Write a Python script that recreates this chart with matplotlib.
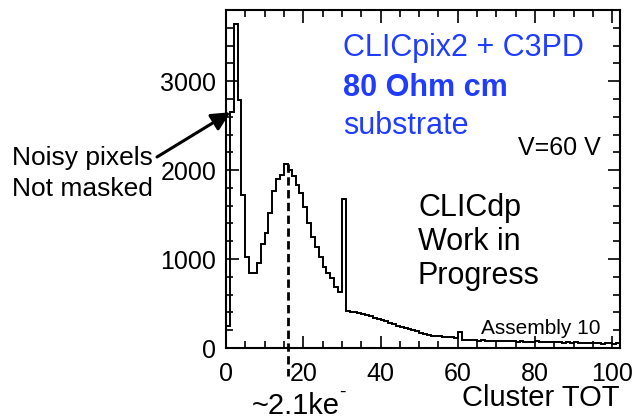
import matplotlib
matplotlib.use("Agg")
import matplotlib.pyplot as plt
from matplotlib.ticker import MultipleLocator
import numpy as np

plt.rcParams["font.family"] = ["Liberation Sans", "DejaVu Sans"]

# Cluster TOT histogram, unit-wide bins starting at 0
bin_edges_start = 0
counts = [
    250, 2650, 3640, 2790, 1720, 1026, 840, 840, 958, 1165,
    1289, 1520, 1767, 1895, 1944, 2067, 2000, 1933, 1831, 1738,
    1588, 1401, 1244, 1138, 1026, 913, 839, 790, 689, 633,
    1671, 420, 410, 400, 392, 380, 368, 355, 340, 328,
    312, 300, 285, 268, 252, 240, 226, 212, 198, 186,
    172, 160, 150, 140, 134, 130, 126, 122, 120, 118,
    183, 85, 88, 90, 86, 84, 88, 82, 80, 84,
    78, 80, 76, 82, 74, 72, 78, 70, 72, 68,
    74, 66, 70, 64, 68, 62, 66, 60, 64, 58,
    62, 56, 60, 54, 58, 52, 56, 50, 54, 60, 48, 52,
]
peak_tot = 16
peak_count = 2067
noisy_tip = (1.1, 2650)

x_ticks = [0, 20, 40, 60, 80, 100]
y_ticks = [0, 1000, 2000, 3000]

W, H = 632, 420
fig = plt.figure(figsize=(W / 100, H / 100), dpi=100)
ax = fig.add_axes([226 / W, (H - 348) / H, (620 - 226) / W, (348 - 10) / H])

edges = np.arange(bin_edges_start, bin_edges_start + len(counts) + 1)
ax.stairs(counts, edges, color="black", lw=1.4, baseline=None)

ax.set_xlim(0, 102)
ax.set_ylim(0, 3800)
ax.set_xticks(x_ticks)
ax.set_yticks(y_ticks)
ax.xaxis.set_minor_locator(MultipleLocator(5))
ax.yaxis.set_minor_locator(MultipleLocator(200))
ax.tick_params(which="both", direction="in", top=True, right=True,
               width=1.2, labelsize=18, colors="black")
ax.tick_params(which="major", length=9)
ax.tick_params(which="minor", length=5)
ax.tick_params(axis="x", pad=10)
ax.tick_params(axis="y", pad=7)
for s in ax.spines.values():
    s.set_linewidth(1.5)

# dashed marker at the peak, running below the axis
ax.plot([peak_tot, peak_tot], [peak_count, -320], color="black", lw=2,
        ls=(0, (3, 1.6)), clip_on=False)

# arrow to the noisy-pixel bins
ax.annotate("", xy=noisy_tip, xycoords="data",
            xytext=(157, H - 157), textcoords="figure pixels",
            arrowprops=dict(arrowstyle="-|>", color="black", lw=2.2,
                            mutation_scale=28, shrinkA=0, shrinkB=0))


def ftext(x, y, s, **kw):
    fig.text(x / W, 1 - y / H, s, **kw)


blue = "#1f3cff"
ftext(343, 48, "CLICpix2 + C3PD", color=blue, fontsize=22, va="center")
ftext(343, 88, "80 Ohm cm", color=blue, fontsize=22, fontweight="bold", va="center")
ftext(343, 126, "substrate", color=blue, fontsize=22, va="center")
ftext(518, 148, "V=60 V", fontsize=18, va="center")
ftext(418, 208, "CLICdp", fontsize=22, va="center")
ftext(418, 242, "Work in", fontsize=22, va="center")
ftext(418, 276, "Progress", fontsize=22, va="center")
ftext(481, 328, "Assembly 10", fontsize=15, va="center")
ftext(12, 158, "Noisy pixels", fontsize=19, va="center")
ftext(12, 189, "Not masked", fontsize=19, va="center")
ftext(252, 406, "~2.1ke", fontsize=21, va="center")
ftext(339, 392, "-", fontsize=14, va="center")
ftext(620, 398, "Cluster TOT", fontsize=21, va="center", ha="right")

fig.savefig("out.png", dpi=100)
